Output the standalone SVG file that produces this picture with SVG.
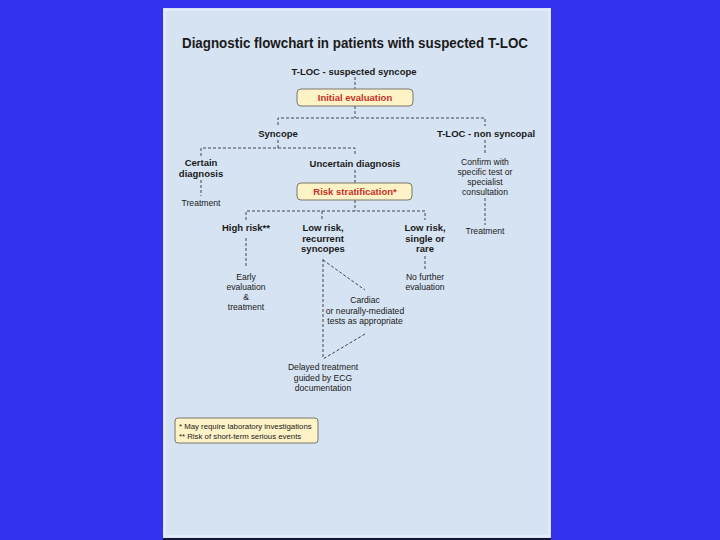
<svg xmlns="http://www.w3.org/2000/svg" width="720" height="540" viewBox="0 0 720 540">
<style>
.b{font-family:"Liberation Sans",Arial,sans-serif;font-weight:bold;font-size:9.5px;fill:#1a1a1a;text-anchor:middle}
.r{font-family:"Liberation Sans",Arial,sans-serif;font-size:8.6px;fill:#1a1a1a;text-anchor:middle}
.box{fill:#fdf3c6;stroke:#7d776a;stroke-width:1}
.bt{font-family:"Liberation Sans",Arial,sans-serif;font-weight:bold;font-size:9.5px;fill:#c8302a;text-anchor:middle}
.d{fill:none;stroke:#333;stroke-width:0.9;stroke-dasharray:3 2}
.l{font-family:"Liberation Sans",Arial,sans-serif;font-size:7.8px;fill:#1a1a1a}
</style>
<rect x="0" y="0" width="720" height="540" fill="#3333ee"/>
<rect x="163" y="8" width="388" height="530" fill="#d6e3f2"/>
<rect x="165" y="10" width="384" height="526" fill="none" stroke="#e2ebf6" stroke-width="2"/>
<rect x="163" y="538" width="388" height="2" fill="#141438"/>
<text x="355" y="48" font-family="'Liberation Sans',Arial,sans-serif" font-weight="bold" font-size="14" fill="#1a1a1a" text-anchor="middle" textLength="346" lengthAdjust="spacingAndGlyphs">Diagnostic flowchart in patients with suspected T-LOC</text>
<g id="connectors">
<path class="d" d="M355 77 V89 M355 106 V118 M278 125 V118 H485 V126"/>
<path class="d" d="M278 140 V148 M201 156 V148 H355 V156"/>
<path class="d" d="M201 180 V196"/>
<path class="d" d="M485 140 V153 M485 198 V225"/>
<path class="d" d="M355 170 V183 M355 200 V211 M246 220 V211 H425 V220 M322 211 V220"/>
<path class="d" d="M246 238 V266 M425 256 V269"/>
<path class="d" d="M323 259 V359 M323 260 L365 290 M365 334 L323 359"/>
</g>
<g id="n-tloc"><text class="b" x="354" y="75">T-LOC - suspected syncope</text></g>
<g id="n-initial"><rect class="box" x="297" y="89" width="116" height="17" rx="4"/><text class="bt" x="355" y="101">Initial evaluation</text></g>
<g id="n-syncope"><text class="b" x="278" y="137">Syncope</text></g>
<g id="n-nonsync"><text class="b" x="486" y="137">T-LOC - non syncopal</text></g>
<g id="n-certain"><text class="b" x="201" y="166">Certain</text><text class="b" x="201" y="177">diagnosis</text></g>
<g id="n-uncertain"><text class="b" x="355" y="167">Uncertain diagnosis</text></g>
<g id="n-treat1"><text class="r" x="201" y="206">Treatment</text></g>
<g id="n-confirm"><text class="r" x="485" y="165">Confirm with</text><text class="r" x="485" y="175">specific test or</text><text class="r" x="485" y="185">specialist</text><text class="r" x="485" y="195">consultation</text></g>
<g id="n-treat2"><text class="r" x="485" y="234">Treatment</text></g>
<g id="n-risk"><rect class="box" x="297" y="183" width="115" height="17" rx="4"/><text class="bt" x="355" y="195">Risk stratification*</text></g>
<g id="n-high"><text class="b" x="246" y="231">High risk**</text></g>
<g id="n-lowrec"><text class="b" x="323" y="231">Low risk,</text><text class="b" x="323" y="242">recurrent</text><text class="b" x="323" y="252">syncopes</text></g>
<g id="n-lowsingle"><text class="b" x="425" y="231">Low risk,</text><text class="b" x="425" y="242">single or</text><text class="b" x="425" y="252">rare</text></g>
<g id="n-early"><text class="r" x="246" y="280">Early</text><text class="r" x="246" y="290">evaluation</text><text class="r" x="246" y="300">&amp;</text><text class="r" x="246" y="310">treatment</text></g>
<g id="n-nofurther"><text class="r" x="425" y="280">No further</text><text class="r" x="425" y="290">evaluation</text></g>
<g id="n-cardiac"><text class="r" x="365" y="303">Cardiac</text><text class="r" x="365" y="314">or neurally-mediated</text><text class="r" x="365" y="324">tests as appropriate</text></g>
<g id="n-delayed"><text class="r" x="323" y="370">Delayed treatment</text><text class="r" x="323" y="381">guided by ECG</text><text class="r" x="323" y="391">documentation</text></g>
<g id="n-legend"><rect class="box" x="175" y="418" width="143" height="25" rx="3"/><text class="l" x="179" y="429">* May require laboratory investigations</text><text class="l" x="179" y="439">** Risk of short-term serious events</text></g>
</svg>
